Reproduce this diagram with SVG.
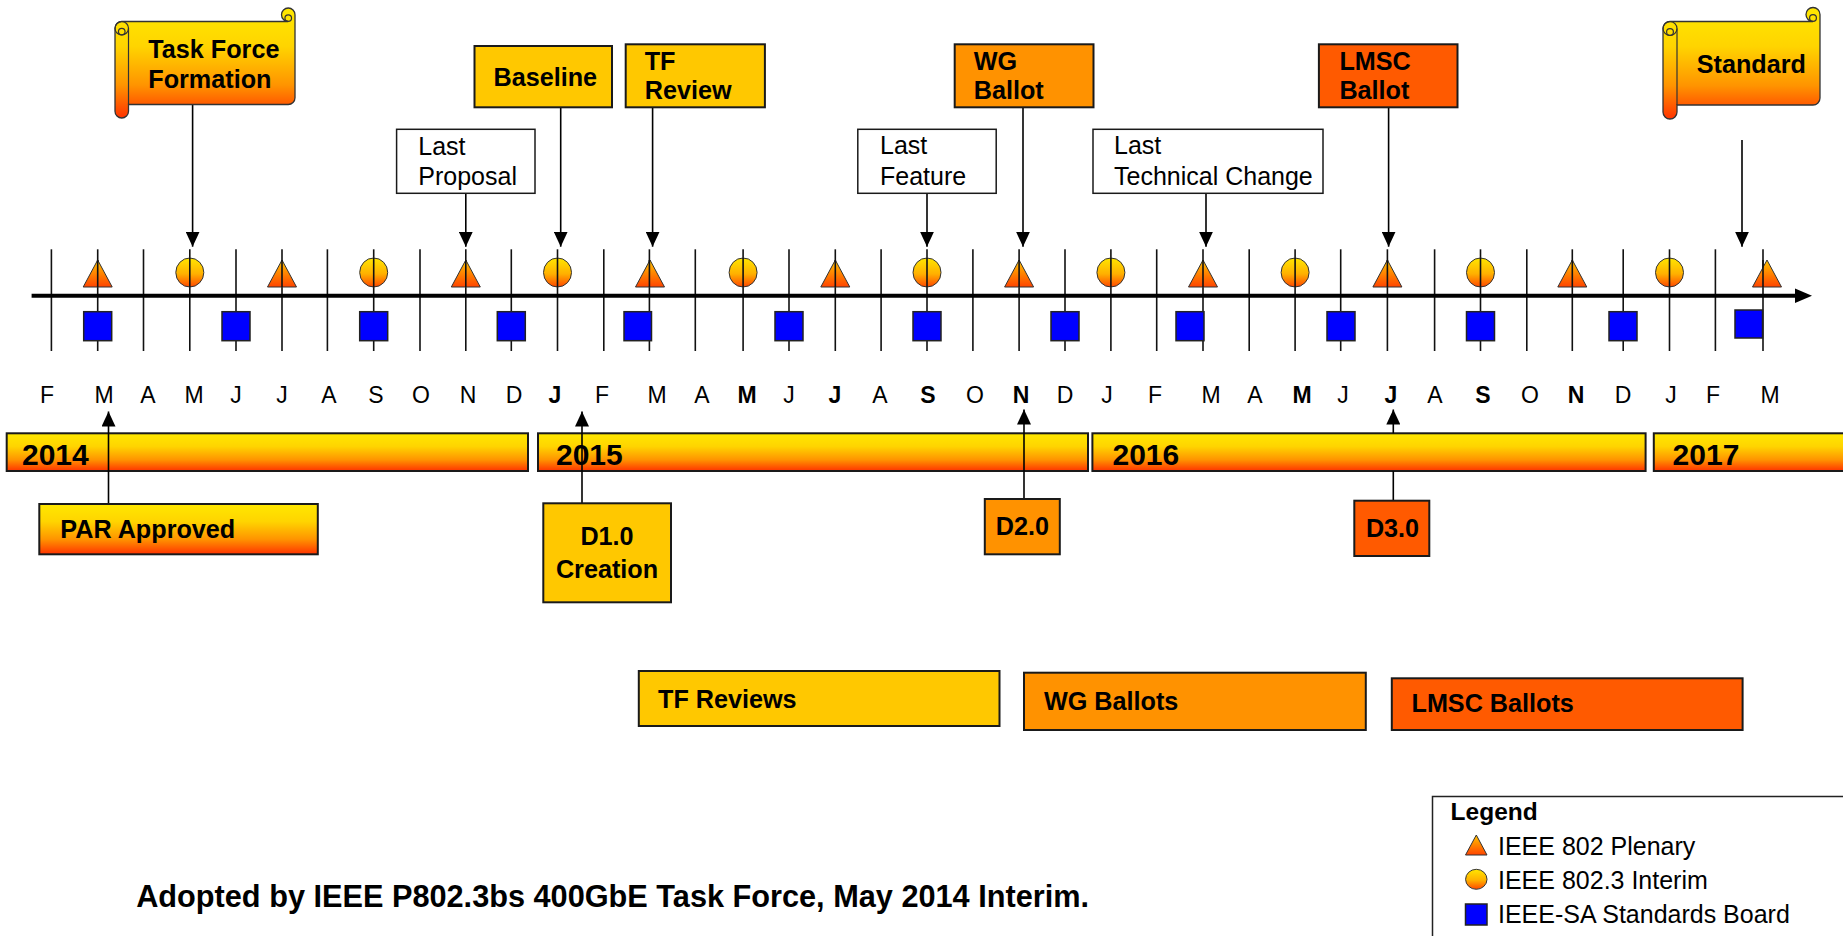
<svg xmlns="http://www.w3.org/2000/svg" width="1843" height="936" viewBox="0 0 1843 936">
<defs>
<linearGradient id="gWarm" x1="0" y1="0" x2="0" y2="1">
<stop offset="0" stop-color="#FFE800"/><stop offset="0.35" stop-color="#FFD400"/><stop offset="0.7" stop-color="#FF9400"/><stop offset="1" stop-color="#FF3300"/>
</linearGradient>
<linearGradient id="gTri" x1="0" y1="0" x2="0" y2="1">
<stop offset="0" stop-color="#FFC400"/><stop offset="1" stop-color="#FF4400"/>
</linearGradient>
<linearGradient id="gCir" x1="0" y1="0" x2="0" y2="1">
<stop offset="0" stop-color="#FFE600"/><stop offset="0.55" stop-color="#FFB000"/><stop offset="1" stop-color="#FF4800"/>
</linearGradient>
<marker id="ah" markerUnits="userSpaceOnUse" markerWidth="16" markerHeight="14" refX="15" refY="7" orient="auto" viewBox="0 0 16 14"><path d="M0,0 L15,7 L0,14 z" fill="#000"/></marker>
<path id="tri" d="M0,-13.5 L14.5,13.5 L-14.5,13.5 Z"/>
</defs>
<style>
text{font-family:"Liberation Sans",Arial,sans-serif;fill:#000}
.b{font-weight:bold;font-size:25.2px}
.r{font-size:25px}
.mo{font-size:23px;text-anchor:middle}
.mb{font-size:23px;text-anchor:middle;font-weight:bold}
.yr{font-weight:bold;font-size:30px}
.box{stroke:#1a1a1a;stroke-width:2}
.gold{fill:#FFC800}
.org{fill:#FF9200}
.red{fill:#FF5A00}
.warm{fill:url(#gWarm)}
.wht{fill:#fff}
.tick{stroke:#111;stroke-width:1.6}
.tri{fill:url(#gTri);stroke:#333;stroke-width:1}
.cir{fill:url(#gCir);stroke:#333;stroke-width:1}
.sq{fill:#0000FF;stroke:#222;stroke-width:1.5}
.con{stroke:#000;stroke-width:1.6;fill:none;marker-end:url(#ah)}
.sc{stroke:#333;stroke-width:1.3}
.scd{fill:none;stroke:#333;stroke-width:1.2}
</style>

<!-- timeline axis -->
<g id="timeline">
<g id="ticks" class="tick">
<line x1="51.4" y1="249.3" x2="51.4" y2="351"/><line x1="97.7" y1="249.3" x2="97.7" y2="351"/><line x1="143.5" y1="249.3" x2="143.5" y2="351"/><line x1="189.8" y1="249.3" x2="189.8" y2="351"/><line x1="236" y1="249.3" x2="236" y2="351"/><line x1="282" y1="249.3" x2="282" y2="351"/><line x1="327.4" y1="249.3" x2="327.4" y2="351"/><line x1="373.7" y1="249.3" x2="373.7" y2="351"/><line x1="420" y1="249.3" x2="420" y2="351"/><line x1="465.8" y1="249.3" x2="465.8" y2="351"/><line x1="511.3" y1="249.3" x2="511.3" y2="351"/><line x1="557.5" y1="249.3" x2="557.5" y2="351"/><line x1="603.8" y1="249.3" x2="603.8" y2="351"/><line x1="649.4" y1="249.3" x2="649.4" y2="351"/><line x1="695.3" y1="249.3" x2="695.3" y2="351"/><line x1="743.1" y1="249.3" x2="743.1" y2="351"/><line x1="789" y1="249.3" x2="789" y2="351"/><line x1="835.3" y1="249.3" x2="835.3" y2="351"/><line x1="881.1" y1="249.3" x2="881.1" y2="351"/><line x1="927" y1="249.3" x2="927" y2="351"/><line x1="972.9" y1="249.3" x2="972.9" y2="351"/><line x1="1019.1" y1="249.3" x2="1019.1" y2="351"/><line x1="1065" y1="249.3" x2="1065" y2="351"/><line x1="1110.9" y1="249.3" x2="1110.9" y2="351"/><line x1="1156.7" y1="249.3" x2="1156.7" y2="351"/><line x1="1203" y1="249.3" x2="1203" y2="351"/><line x1="1249.2" y1="249.3" x2="1249.2" y2="351"/><line x1="1295.1" y1="249.3" x2="1295.1" y2="351"/><line x1="1340.7" y1="249.3" x2="1340.7" y2="351"/><line x1="1387.4" y1="249.3" x2="1387.4" y2="351"/><line x1="1434.6" y1="249.3" x2="1434.6" y2="351"/><line x1="1480.5" y1="249.3" x2="1480.5" y2="351"/><line x1="1526.8" y1="249.3" x2="1526.8" y2="351"/><line x1="1572.3" y1="249.3" x2="1572.3" y2="351"/><line x1="1623.2" y1="249.3" x2="1623.2" y2="351"/><line x1="1669.5" y1="249.3" x2="1669.5" y2="351"/><line x1="1715.4" y1="249.3" x2="1715.4" y2="351"/><line x1="1763" y1="249.3" x2="1763" y2="351"/>
</g>
<g id="plenary-markers" class="tri">
<use href="#tri" x="97.7" y="273.5"/><use href="#tri" x="282" y="273.5"/><use href="#tri" x="465.8" y="273.5"/><use href="#tri" x="650" y="273.5"/><use href="#tri" x="835.3" y="273.5"/><use href="#tri" x="1019.1" y="273.5"/><use href="#tri" x="1203" y="273.5"/><use href="#tri" x="1387.4" y="273.5"/><use href="#tri" x="1572.3" y="273.5"/><use href="#tri" x="1767" y="273.5"/>
</g>
<g id="interim-markers" class="cir">
<ellipse cx="189.8" cy="272.5" rx="14" ry="14.5"/><ellipse cx="373.7" cy="272.5" rx="14" ry="14.5"/><ellipse cx="557.5" cy="272.5" rx="14" ry="14.5"/><ellipse cx="743.1" cy="272.5" rx="14" ry="14.5"/><ellipse cx="927" cy="272.5" rx="14" ry="14.5"/><ellipse cx="1110.9" cy="272.5" rx="14" ry="14.5"/><ellipse cx="1295.1" cy="272.5" rx="14" ry="14.5"/><ellipse cx="1480.5" cy="272.5" rx="14" ry="14.5"/><ellipse cx="1669.5" cy="272.5" rx="14" ry="14.5"/>
</g>
<g id="tick-overlay" class="tick">
<line x1="97.7" y1="260" x2="97.7" y2="287"/><line x1="282" y1="260" x2="282" y2="287"/><line x1="465.8" y1="260" x2="465.8" y2="287"/><line x1="649.4" y1="260" x2="649.4" y2="287"/><line x1="835.3" y1="260" x2="835.3" y2="287"/><line x1="1019.1" y1="260" x2="1019.1" y2="287"/><line x1="1203" y1="260" x2="1203" y2="287"/><line x1="1387.4" y1="260" x2="1387.4" y2="287"/><line x1="1572.3" y1="260" x2="1572.3" y2="287"/><line x1="1763" y1="260" x2="1763" y2="287"/>
<line x1="189.8" y1="258" x2="189.8" y2="287"/><line x1="373.7" y1="258" x2="373.7" y2="287"/><line x1="557.5" y1="258" x2="557.5" y2="287"/><line x1="743.1" y1="258" x2="743.1" y2="287"/><line x1="927" y1="258" x2="927" y2="287"/><line x1="1110.9" y1="258" x2="1110.9" y2="287"/><line x1="1295.1" y1="258" x2="1295.1" y2="287"/><line x1="1480.5" y1="258" x2="1480.5" y2="287"/><line x1="1669.5" y1="258" x2="1669.5" y2="287"/>
</g>
<g id="axis">
<line x1="31.6" y1="295.7" x2="1798" y2="295.7" stroke="#000" stroke-width="4"/>
<polygon points="1795,288.5 1812,295.7 1795,303" fill="#000"/>
</g>
<g id="board-markers" class="sq">
<rect x="83.7" y="311.7" width="28" height="29"/><rect x="222" y="311.7" width="28" height="29"/><rect x="359.7" y="311.7" width="28" height="29"/><rect x="497.3" y="311.7" width="28" height="29"/><rect x="624" y="311.7" width="27.5" height="29"/><rect x="775" y="311.7" width="28" height="29"/><rect x="913" y="311.7" width="28" height="29"/><rect x="1051" y="311.7" width="28" height="29"/><rect x="1176" y="311.7" width="28" height="29"/><rect x="1327" y="311.7" width="28" height="29"/><rect x="1466.5" y="311.7" width="28" height="29"/><rect x="1609" y="311.7" width="28" height="29"/><rect x="1735" y="310" width="27.5" height="28"/>
</g>
<g id="months">
<text class="mo" x="47" y="403.3">F</text><text class="mo" x="104" y="403.3">M</text><text class="mo" x="148" y="403.3">A</text><text class="mo" x="194" y="403.3">M</text><text class="mo" x="236" y="403.3">J</text><text class="mo" x="282" y="403.3">J</text><text class="mo" x="329" y="403.3">A</text><text class="mo" x="376" y="403.3">S</text><text class="mo" x="421" y="403.3">O</text><text class="mo" x="468" y="403.3">N</text><text class="mo" x="514" y="403.3">D</text><text class="mb" x="555" y="403.3">J</text><text class="mo" x="602" y="403.3">F</text><text class="mo" x="657" y="403.3">M</text><text class="mo" x="702" y="403.3">A</text><text class="mb" x="747" y="403.3">M</text><text class="mo" x="789" y="403.3">J</text><text class="mb" x="835" y="403.3">J</text><text class="mo" x="880" y="403.3">A</text><text class="mb" x="928" y="403.3">S</text><text class="mo" x="975" y="403.3">O</text><text class="mb" x="1021" y="403.3">N</text><text class="mo" x="1065" y="403.3">D</text><text class="mo" x="1107" y="403.3">J</text><text class="mo" x="1155" y="403.3">F</text><text class="mo" x="1211" y="403.3">M</text><text class="mo" x="1255" y="403.3">A</text><text class="mb" x="1302" y="403.3">M</text><text class="mo" x="1343" y="403.3">J</text><text class="mb" x="1391" y="403.3">J</text><text class="mo" x="1435" y="403.3">A</text><text class="mb" x="1483" y="403.3">S</text><text class="mo" x="1530" y="403.3">O</text><text class="mb" x="1576" y="403.3">N</text><text class="mo" x="1623" y="403.3">D</text><text class="mo" x="1671" y="403.3">J</text><text class="mo" x="1713" y="403.3">F</text><text class="mo" x="1770" y="403.3">M</text>
</g>
</g>

<!-- year bars -->
<g id="year-2014"><rect class="box warm" x="6.7" y="433.3" width="521.3" height="37.7"/><text class="yr" x="22" y="465">2014</text></g>
<g id="year-2015"><rect class="box warm" x="538" y="433.3" width="550" height="37.7"/><text class="yr" x="556" y="465">2015</text></g>
<g id="year-2016"><rect class="box warm" x="1092.4" y="433.3" width="553.2" height="37.7"/><text class="yr" x="1112.5" y="465">2016</text></g>
<g id="year-2017"><rect class="box warm" x="1653.8" y="433.3" width="200" height="37.7"/><text class="yr" x="1672.6" y="465">2017</text></g>

<!-- connectors -->
<g id="connectors" class="con">
<path d="M192.6,105 V246.7"/>
<path d="M465.8,193.3 V246.7"/>
<path d="M560.7,107.3 V246.7"/>
<path d="M652.6,107.3 V246.7"/>
<path d="M927,193.3 V246.7"/>
<path d="M1023,107.3 V246.7"/>
<path d="M1206,193.3 V246.7"/>
<path d="M1388.6,107.3 V246.7"/>
<path d="M1742,140 V246.7"/>
<path d="M108.5,504 V411.5"/>
<path d="M582,503.3 V411.5"/>
<path d="M1024,499 V409.5"/>
<path d="M1393.3,500.7 V471 M1393.3,433.3 V409.5"/>
</g>

<!-- top milestones -->
<g id="task-force-formation">
<path class="sc warm" d="M115,28.25 A6.75,6.75 0 0 1 121.75,21.5 L288.25,21.5 A6.75,6.75 0 1 1 295,14.75 L295,97.75 A6.75,6.75 0 0 1 288.25,104.5 L128.5,104.5 L128.5,111.25 A6.75,6.75 0 0 1 115,111.25 Z"/>
<path class="scd" d="M128.5,28.25 V104.5"/>
<circle class="scd" cx="121.75" cy="28.25" r="6.75"/>
<circle class="scd" cx="121.75" cy="31.6" r="3.3"/>
<circle class="scd" cx="288.25" cy="18.1" r="3.3"/>
<text class="b" x="148.3" y="58.3">Task Force</text>
<text class="b" x="148.3" y="88.3">Formation</text>
</g>
<g id="last-proposal"><rect class="wht" x="396.6" y="129.3" width="138.4" height="64" stroke="#1a1a1a" stroke-width="1.5"/><text class="r" x="418.3" y="155">Last</text><text class="r" x="418.3" y="185">Proposal</text></g>
<g id="baseline"><rect class="box gold" x="474.5" y="46" width="137.5" height="61.3"/><text class="b" x="493.5" y="86">Baseline</text></g>
<g id="tf-review"><rect class="box gold" x="625.7" y="44.3" width="139.2" height="63"/><text class="b" x="644.7" y="70">TF</text><text class="b" x="644.7" y="99.3">Review</text></g>
<g id="last-feature"><rect class="wht" x="857.8" y="129.3" width="138.4" height="64" stroke="#1a1a1a" stroke-width="1.5"/><text class="r" x="880" y="154">Last</text><text class="r" x="880" y="185">Feature</text></g>
<g id="wg-ballot"><rect class="box org" x="954.7" y="44.3" width="138.8" height="63"/><text class="b" x="973.7" y="70">WG</text><text class="b" x="973.7" y="99.3">Ballot</text></g>
<g id="last-technical-change"><rect class="wht" x="1093" y="129.3" width="230" height="64" stroke="#1a1a1a" stroke-width="1.5"/><text class="r" x="1114" y="154">Last</text><text class="r" x="1114" y="185">Technical Change</text></g>
<g id="lmsc-ballot"><rect class="box red" x="1318.9" y="44.3" width="138.6" height="63"/><text class="b" x="1339.4" y="70">LMSC</text><text class="b" x="1339.4" y="99.3">Ballot</text></g>
<g id="standard">
<path class="sc warm" d="M1663,28.5 A7,7 0 0 1 1670,21.5 L1813,21.5 A7,7 0 1 1 1820,14.5 L1820,98 A7,7 0 0 1 1813,105 L1677,105 L1677,112 A7,7 0 0 1 1663,112 Z"/>
<path class="scd" d="M1677,28.5 V105"/>
<circle class="scd" cx="1670" cy="28.5" r="7"/>
<circle class="scd" cx="1670" cy="32" r="3.4"/>
<circle class="scd" cx="1813" cy="18" r="3.4"/>
<text class="b" x="1696.7" y="73.3">Standard</text>
</g>

<!-- lower milestones -->
<g id="par-approved"><rect class="box warm" x="39.3" y="504" width="278.5" height="50.3"/><text class="b" x="60.3" y="538">PAR Approved</text></g>
<g id="d1-creation"><rect class="box gold" x="543.3" y="503.3" width="127.7" height="99"/><text class="b" x="607" y="545" text-anchor="middle">D1.0</text><text class="b" x="607" y="578.3" text-anchor="middle">Creation</text></g>
<g id="d2"><rect class="box org" x="984.8" y="499" width="75" height="55.3"/><text class="b" x="1022.3" y="535" text-anchor="middle">D2.0</text></g>
<g id="d3"><rect class="box red" x="1354.3" y="500.7" width="75" height="55.3"/><text class="b" x="1392.5" y="536.7" text-anchor="middle">D3.0</text></g>

<!-- phases -->
<g id="tf-reviews"><rect class="box gold" x="638.8" y="671" width="360.7" height="55"/><text class="b" x="658" y="708.3">TF Reviews</text></g>
<g id="wg-ballots"><rect class="box org" x="1024" y="672.7" width="341.8" height="57.3"/><text class="b" x="1044" y="710">WG Ballots</text></g>
<g id="lmsc-ballots"><rect class="box red" x="1391.8" y="678.3" width="350.8" height="51.7"/><text class="b" x="1411.5" y="711.7">LMSC Ballots</text></g>

<!-- legend -->
<g id="legend">
<rect x="1432.5" y="796.5" width="430" height="160" fill="#fff" stroke="#222" stroke-width="1.5"/>
<text x="1450.6" y="820" style="font-weight:bold;font-size:24.5px">Legend</text>
<path class="tri" d="M1476.3,835 L1487,855 L1465.5,855 Z"/>
<text class="r" x="1498" y="855">IEEE 802 Plenary</text>
<ellipse class="cir" cx="1476.3" cy="879.3" rx="10.7" ry="10"/>
<text class="r" x="1498" y="889.3">IEEE 802.3 Interim</text>
<rect class="sq" x="1465.5" y="904" width="21.5" height="21"/>
<text class="r" x="1498" y="923.3">IEEE-SA Standards Board</text>
</g>

<g id="footnote"><text x="136.2" y="906.7" style="font-weight:bold;font-size:30.7px">Adopted by IEEE P802.3bs 400GbE Task Force, May 2014 Interim.</text></g>
</svg>
